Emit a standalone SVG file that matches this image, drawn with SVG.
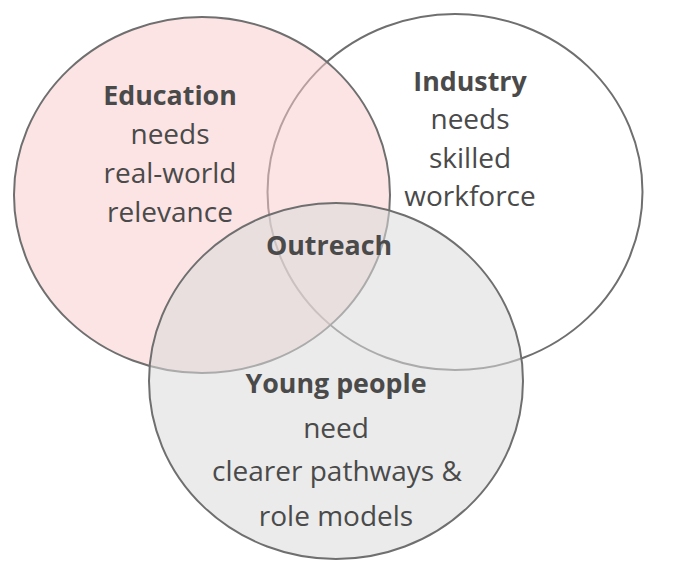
<svg xmlns="http://www.w3.org/2000/svg" width="684" height="566" viewBox="0 0 684 566">
<style>
.c{stroke:#6f6f6f;stroke-width:2}
.t{font-family:"Open Sans",Lato,sans-serif;font-size:28px;fill:#4a4a4a;text-anchor:middle}
.b{font-weight:bold;font-size:26.8px}
</style>
<rect width="684" height="566" fill="#ffffff"/>
<g id="industry">
<ellipse class="c" cx="455" cy="192" rx="187.5" ry="178" fill="#ffffff"/>
</g>
<g id="education">
<ellipse class="c" cx="202" cy="195" rx="188" ry="178" fill="#f9cccc" fill-opacity="0.52"/>
</g>
<g id="young-people">
<ellipse class="c" cx="336" cy="381" rx="187" ry="178" fill="#dbdbdb" fill-opacity="0.56"/>
</g>
<g id="connectors"></g>
<g id="labels">
<text class="t"><tspan class="b" x="170" y="105">Education</tspan><tspan x="170" y="144">needs</tspan><tspan x="170" y="183">real-world</tspan><tspan x="170" y="222">relevance</tspan></text>
<text class="t"><tspan class="b" x="470" y="91">Industry</tspan><tspan x="470" y="129">needs</tspan><tspan x="470" y="168">skilled</tspan><tspan x="470" y="206">workforce</tspan></text>
<text class="t b" x="329" y="255">Outreach</text>
<text class="t"><tspan class="b" x="336" y="393">Young people</tspan><tspan x="336" y="438">need</tspan><tspan x="337" y="481">clearer pathways &amp;</tspan><tspan x="336" y="526">role models</tspan></text>
</g>
</svg>
